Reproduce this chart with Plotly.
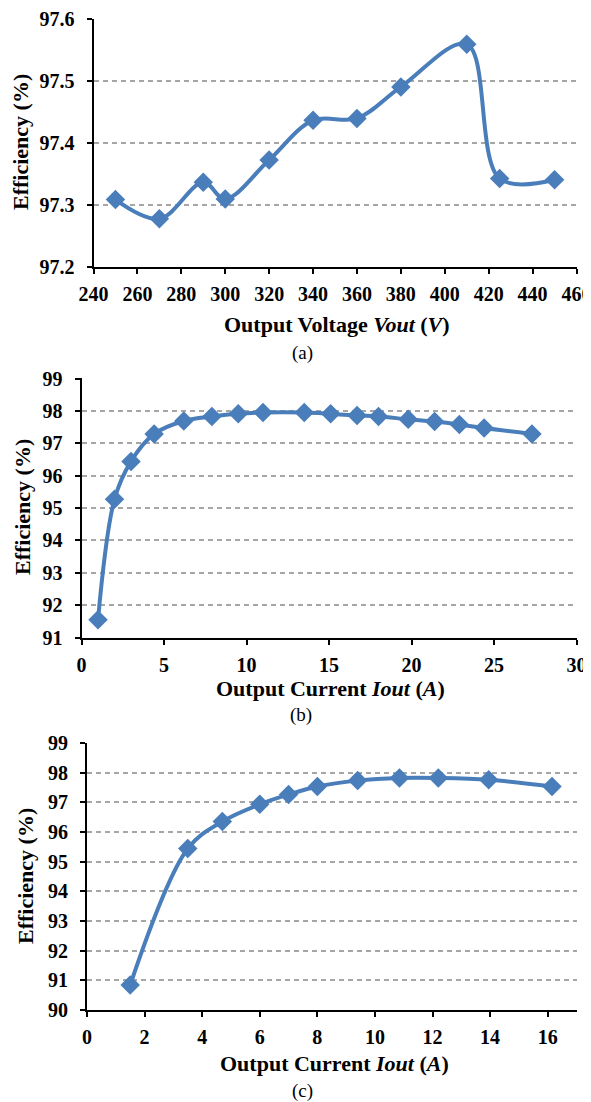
import plotly.graph_objects as go

# page body has an 8px margin; the figure is sized and positioned to compensate
OFF = 8
W, H = 591 - OFF, 1102 - OFF

# ---- data ----
a_vout = [250, 270, 290, 300, 320, 340, 360, 380, 410, 425, 450]
a_eff = [97.308, 97.277, 97.336, 97.309, 97.372, 97.436, 97.439, 97.490, 97.559, 97.342, 97.340]

b_iout = [1.0, 2.0, 3.0, 4.4, 6.2, 7.9, 9.5, 11.0, 13.5, 15.1, 16.7, 18.0, 19.8, 21.4, 22.9, 24.4, 27.3]
b_eff = [91.55, 95.27, 96.44, 97.29, 97.69, 97.83, 97.91, 97.95, 97.95, 97.91, 97.86, 97.83, 97.74, 97.67, 97.58, 97.47, 97.29]

c_iout = [1.5, 3.5, 4.7, 6.0, 7.0, 8.0, 9.4, 10.85, 12.2, 13.95, 16.15]
c_eff = [90.84, 95.44, 96.35, 96.93, 97.26, 97.53, 97.73, 97.82, 97.82, 97.76, 97.53]

a_xticks = list(range(240, 461, 20))
a_yticks = [97.2, 97.3, 97.4, 97.5, 97.6]
b_xticks = list(range(0, 31, 5))
b_yticks = list(range(91, 100))
c_xticks = list(range(0, 17, 2))
c_yticks = list(range(90, 100))

captions = ["(a)", "(b)", "(c)"]
xtitles = ["Output Voltage <i>Vout</i> (<i>V</i>)",
           "Output Current <i>Iout</i> (<i>A</i>)",
           "Output Current <i>Iout</i> (<i>A</i>)"]
ytitle = "Efficiency (%)"

BLUE = "#4a7ebb"
GRID = "#a6a6a6"
FONT = "Liberation Serif"


def fx(px):
    return (px - OFF) / W


def fy(py):
    return 1 - (py - OFF) / H


# plot areas in window pixels: (x0, x1, ytop, ybottom)
areas = [(93.5, 576.5, 18.5, 266.5), (81.5, 576.5, 378.3, 637.5), (87, 576.5, 742.7, 1010)]
xranges = [[240, 460], [0, 30], [0, 17]]
yranges = [[97.2, 97.6004], [91, 99.008], [90, 99.008]]
xtickss = [a_xticks, b_xticks, c_xticks]
ytickss = [a_yticks, b_yticks, c_yticks]
series = [(a_vout, a_eff), (b_iout, b_eff), (c_iout, c_eff)]

fig = go.Figure()
layout = dict(width=W, height=H, margin=dict(l=0, r=0, t=0, b=0, autoexpand=False),
              paper_bgcolor="white", plot_bgcolor="white", showlegend=False,
              font=dict(family=FONT, size=20, color="black"))

TICKFONT = dict(family=FONT, size=20, color="black", weight="bold")

annotations = []
for i in range(3):
    n = "" if i == 0 else str(i + 1)
    x0, x1, yt, yb = areas[i]
    xs, ys = series[i]
    fig.add_trace(go.Scatter(
        x=xs, y=ys, mode="lines+markers", xaxis="x" + n, yaxis="y" + n,
        line=dict(color=BLUE, width=4, shape="spline", smoothing=1.0),
        marker=dict(symbol="diamond", size=15, color=BLUE),
        cliponaxis=False,
    ))
    yt_fmt = ".1f" if i == 0 else "d"
    layout["xaxis" + n] = dict(
        domain=[fx(x0), fx(x1)], anchor="y" + n, range=xranges[i],
        tickmode="array", tickvals=xtickss[i], ticks="outside", ticklen=5, tickwidth=2,
        tickcolor="black", showline=True, linecolor="black", linewidth=2,
        showgrid=False, zeroline=False, tickfont=TICKFONT,
        ticklabelstandoff=3, automargin=False, ticklabeloverflow="allow",
    )
    layout["yaxis" + n] = dict(
        domain=[fy(yb), fy(yt)], anchor="x" + n, range=yranges[i],
        tickmode="array", tickvals=ytickss[i], tickformat=yt_fmt,
        ticks="outside", ticklen=5, tickwidth=2, tickcolor="black",
        showline=True, linecolor="black", linewidth=2,
        showgrid=True, gridcolor=GRID, gridwidth=1.5, griddash="5px,4px",
        zeroline=False, tickfont=TICKFONT,
        ticklabelstandoff=8, automargin=False, ticklabeloverflow="allow",
    )

# axis titles and captions (window pixel positions converted to paper)
xt_pos = [(337, 324), (330, 688), (334, 1063)]
cap_pos = [(302, 353), (301, 715), (302, 1091)]
yt_pos = [(20, 142), (22, 507), (25, 876)]
for i in range(3):
    annotations.append(dict(text="<b>" + xtitles[i] + "</b>", x=fx(xt_pos[i][0]), y=fy(xt_pos[i][1]),
                            xref="paper", yref="paper", showarrow=False,
                            xanchor="center", yanchor="middle",
                            font=dict(family=FONT, size=22, color="black")))
    annotations.append(dict(text=captions[i], x=fx(cap_pos[i][0]), y=fy(cap_pos[i][1]),
                            xref="paper", yref="paper", showarrow=False,
                            xanchor="center", yanchor="middle",
                            font=dict(family=FONT, size=19, color="black")))
    annotations.append(dict(text="<b>" + ytitle + "</b>", x=fx(yt_pos[i][0]), y=fy(yt_pos[i][1]),
                            xref="paper", yref="paper", showarrow=False, textangle=-90,
                            xanchor="center", yanchor="middle",
                            font=dict(family=FONT, size=22, color="black")))

layout["annotations"] = annotations
fig.update_layout(**layout)
fig.write_html("out.html")
